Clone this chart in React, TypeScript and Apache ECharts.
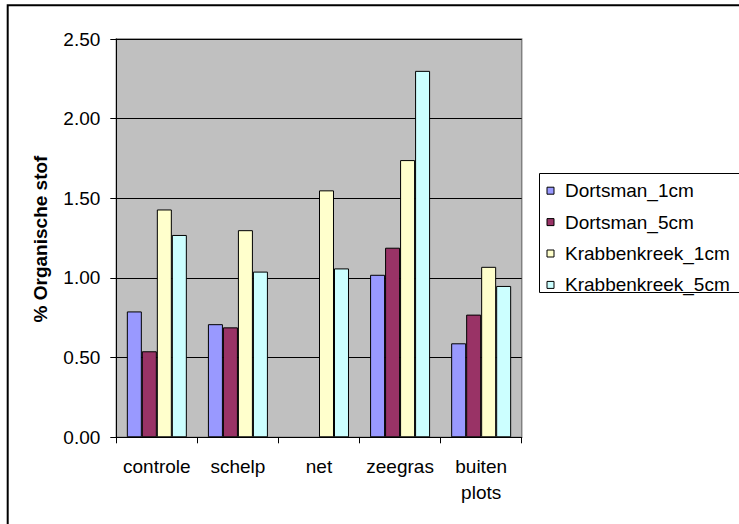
import React, { useEffect, useRef } from "react";
import * as echarts from "echarts";

const categories = ["controle", "schelp", "net", "zeegras", "buiten plots"];
const seriesNames = ["Dortsman_1cm", "Dortsman_5cm", "Krabbenkreek_1cm", "Krabbenkreek_5cm"];
const dortsman1 = [0.79, 0.71, null, 1.02, 0.59];
const dortsman5 = [0.54, 0.69, null, 1.19, 0.77];
const krabben1 = [1.43, 1.3, 1.55, 1.74, 1.07];
const krabben5 = [1.27, 1.04, 1.06, 2.3, 0.95];
const colors = ["#9999FF", "#993366", "#FFFFCC", "#CCFFFF"];
const yTicks = { min: 0, max: 2.5, interval: 0.5 };

const FONT = "'Liberation Sans', Arial, sans-serif";

export default function App() {
  const ref = useRef<HTMLDivElement>(null);
  useEffect(() => {
    document.body.style.margin = "0";
    if (!ref.current) return;
    const chart = echarts.init(ref.current, null, { renderer: "svg" });
    const values = [dortsman1, dortsman5, krabben1, krabben5];
    chart.setOption({
      animation: false,
      backgroundColor: "#ffffff",
      textStyle: { fontFamily: FONT },
      grid: {
        left: 116.3,
        top: 39,
        width: 405.4,
        height: 398.3,
        show: true,
        backgroundColor: "#C0C0C0",
        borderColor: "#808080",
        borderWidth: 1.5,
        containLabel: false,
      },
      legend: {
        orient: "vertical",
        left: 546.5,
        top: 180.7,
        padding: 0,
        itemWidth: 7,
        itemHeight: 7,
        itemGap: 11.4,
        icon: "rect",
        data: seriesNames,
        textStyle: {
          fontFamily: FONT,
          fontSize: 19,
          color: "#000",
          lineHeight: 20,
          padding: [0, 0, 0, 6],
        },
        itemStyle: { borderColor: "#000", borderWidth: 1 },
      },
      xAxis: {
        type: "category",
        data: categories,
        boundaryGap: true,
        axisLine: { show: true, lineStyle: { color: "#000", width: 1 } },
        axisTick: { show: true, interval: 0, length: 6, lineStyle: { color: "#000" } },
        axisLabel: {
          interval: 0,
          margin: 16.4,
          color: "#000",
          fontFamily: FONT,
          fontSize: 19,
          lineHeight: 26,
          formatter: (v: string) => v.replace(" ", "\n"),
        },
        splitLine: { show: false },
      },
      yAxis: {
        type: "value",
        min: yTicks.min,
        max: yTicks.max,
        interval: yTicks.interval,
        axisLine: { show: true, lineStyle: { color: "#000", width: 1 } },
        axisTick: { show: true, length: 6, lineStyle: { color: "#000" } },
        axisLabel: {
          margin: 16,
          color: "#000",
          fontFamily: FONT,
          fontSize: 19,
          formatter: (v: number) => v.toFixed(2),
        },
        splitLine: { show: true, lineStyle: { color: "#000", width: 1 } },
      },
      series: seriesNames.map((name, i) => ({
        name,
        type: "bar",
        data: values[i],
        barGap: "0%",
        barCategoryGap: "26%",
        itemStyle: { color: colors[i], borderColor: "#000", borderWidth: 1 },
      })),
      graphic: [
        {
          type: "rect",
          shape: { x: 7.7, y: 5.2, width: 800, height: 600 },
          style: { fill: "none", stroke: "#000", lineWidth: 2 },
          silent: true,
        },
        {
          type: "rect",
          shape: { x: 539.5, y: 173.5, width: 300, height: 119 },
          style: { fill: "none", stroke: "#000", lineWidth: 1 },
          silent: true,
        },
        {
          type: "text",
          x: 40.7,
          y: 239,
          rotation: Math.PI / 2,
          style: {
            text: "% Organische stof",
            font: `bold 19px ${FONT}`,
            fill: "#000",
            textAlign: "center",
            textVerticalAlign: "middle",
          },
        },
      ],
    });
    return () => chart.dispose();
  }, []);
  return <div ref={ref} style={{ width: 739, height: 524 }} />;
}
